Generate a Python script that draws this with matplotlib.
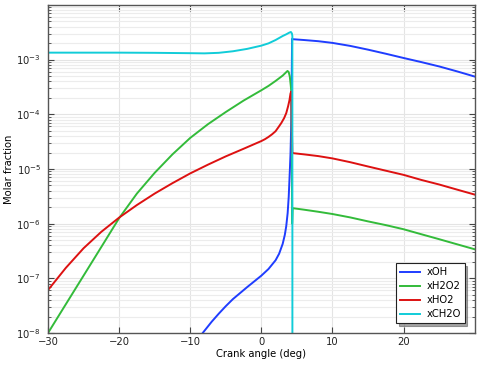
import matplotlib.pyplot as plt
from matplotlib.ticker import LogLocator, NullFormatter, FixedLocator

# crank angle (deg) and molar fractions
x_oh = [-9.0, -8.25, -7.0, -6.0, -5.0, -4.0, -2.0, 0.0, 1.0, 2.0, 2.5, 3.0, 3.3, 3.5,
        3.7, 3.85, 4.0, 4.1, 4.18, 4.22, 4.26, 4.29, 4.32, 4.4, 6.0, 8.0, 10.0, 12.5,
        15.0, 17.5, 20.0, 22.5, 25.0, 27.5, 30.0]
y_oh = [7.4e-9, 1e-8, 1.6e-8, 2.25e-8, 3.1e-8, 4.17e-8, 6.9e-8, 1.12e-7, 1.48e-7,
        2.14e-7, 2.82e-7, 4.27e-7, 6.24e-7, 9.0e-7, 1.57e-6, 3.13e-6, 8.9e-6, 1.9e-5,
        5e-5, 8.9e-5, 2.5e-4, 7.9e-4, 2.4e-3, 2.36e-3, 2.28e-3, 2.17e-3, 2.02e-3,
        1.78e-3, 1.52e-3, 1.28e-3, 1.07e-3, 9.0e-4, 7.5e-4, 6.1e-4, 4.9e-4]

x_h2o2 = [-30.0, -27.5, -25.0, -22.5, -20.0, -17.5, -15.0, -12.5, -10.0, -7.5, -5.0,
          -2.5, 0.0, 1.0, 2.0, 3.0, 3.5, 3.68, 3.85, 4.0, 4.13, 4.25, 4.33, 4.4, 6.0,
          8.0, 10.0, 12.5, 15.0, 17.5, 20.0, 22.5, 25.0, 27.5, 30.0]
y_h2o2 = [1e-8, 3.35e-8, 1.12e-7, 3.75e-7, 1.26e-6, 3.55e-6, 8.5e-6, 1.85e-5, 3.7e-5,
          6.6e-5, 1.1e-4, 1.78e-4, 2.75e-4, 3.3e-4, 4.07e-4, 5.1e-4, 5.9e-4, 6.2e-4,
          5.9e-4, 4.9e-4, 3.4e-4, 2.3e-4, 1e-6, 1.92e-6, 1.8e-6, 1.65e-6, 1.5e-6, 1.3e-6,
          1.1e-6, 9.4e-7, 7.9e-7, 6.4e-7, 5.2e-7, 4.2e-7, 3.4e-7]

x_ho2 = [-30.0, -27.5, -25.0, -22.5, -20.0, -17.5, -15.0, -12.5, -10.0, -7.5, -5.0,
         -2.5, 0.0, 0.5, 1.0, 1.5, 2.0, 2.4, 2.8, 3.2, 3.5, 3.76, 3.95, 4.1, 4.2, 4.36,
         4.4, 6.0, 8.0, 10.0, 12.5, 15.0, 17.5, 20.0, 22.5, 25.0, 27.5, 30.0]
y_ho2 = [6.1e-8, 1.55e-7, 3.55e-7, 7.1e-7, 1.29e-6, 2.19e-6, 3.55e-6, 5.5e-6, 8.3e-6,
         1.2e-5, 1.7e-5, 2.34e-5, 3.24e-5, 3.5e-5, 3.85e-5, 4.3e-5, 4.9e-5, 5.8e-5,
         6.9e-5, 8.5e-5, 1.05e-4, 1.4e-4, 1.8e-4, 2.4e-4, 2.6e-4, 2.0e-5, 1.95e-5,
         1.85e-5, 1.72e-5, 1.56e-5, 1.33e-5, 1.11e-5, 9.3e-6, 7.8e-6, 6.3e-6, 5.2e-6,
         4.2e-6, 3.4e-6]

x_ch2o = [-30.0, -25.0, -20.0, -15.0, -10.0, -8.0, -6.0, -4.0, -2.0, 0.0, 1.0, 2.0, 3.0,
          3.5, 3.9, 4.15, 4.3, 4.36, 4.37]
y_ch2o = [1.34e-3, 1.34e-3, 1.34e-3, 1.33e-3, 1.31e-3, 1.3e-3, 1.33e-3, 1.42e-3, 1.57e-3,
          1.8e-3, 1.98e-3, 2.28e-3, 2.7e-3, 2.9e-3, 3.1e-3, 3.2e-3, 3.0e-3, 2.7e-3, 1e-12]

x_ticks = [-30, -20, -10, 0, 10, 20]

fig = plt.figure(figsize=(4.98, 3.78), dpi=100)
ax = fig.add_axes([0.0964, 0.119, 0.8568, 0.868])

ax.plot(x_oh, y_oh, color="#1f3dff", lw=1.4, label="xOH")
ax.plot(x_h2o2, y_h2o2, color="#33bb3a", lw=1.4, label="xH2O2")
ax.plot(x_ho2, y_ho2, color="#dd1111", lw=1.4, label="xHO2")
ax.plot(x_ch2o, y_ch2o, color="#11ccd8", lw=1.4, label="xCH2O")

ax.set_yscale("log")
ax.set_xlim(-30, 30)
ax.set_ylim(1e-8, 1e-2)
ax.xaxis.set_major_locator(FixedLocator(x_ticks))
ax.yaxis.set_major_locator(FixedLocator([1e-8, 1e-7, 1e-6, 1e-5, 1e-4, 1e-3]))
ax.yaxis.set_minor_locator(LogLocator(base=10, subs=range(2, 10), numticks=20))
ax.yaxis.set_minor_formatter(NullFormatter())

ax.grid(True, which="major", color="#e4e4e4", lw=0.8)
ax.grid(True, which="minor", axis="y", color="#ececec", lw=0.8)
ax.set_axisbelow(True)

ax.tick_params(which="both", direction="in", top=True, right=True, colors="#444444",
               labelcolor="#222222", labelsize=7.2)
ax.tick_params(which="major", length=4, width=0.8)
ax.tick_params(which="minor", length=2.5, width=0.6)
ax.tick_params(axis="x", which="major", pad=3)
ax.tick_params(axis="y", which="major", pad=5)
for s in ax.spines.values():
    s.set_color("#555555")
    s.set_linewidth(1.0)

ax.set_xlabel("Crank angle (deg)", fontsize=7.2, labelpad=1)
ax.set_ylabel("Molar fraction", fontsize=7.2, labelpad=2)

leg = ax.legend(loc="lower right", fontsize=7.2, frameon=True, fancybox=False, shadow=True,
                borderaxespad=1.0, handlelength=2.0, handletextpad=0.6, labelspacing=0.4)
leg.get_frame().set_edgecolor("#222222")
leg.get_frame().set_linewidth(0.8)

fig.savefig("out.png", dpi=100)
